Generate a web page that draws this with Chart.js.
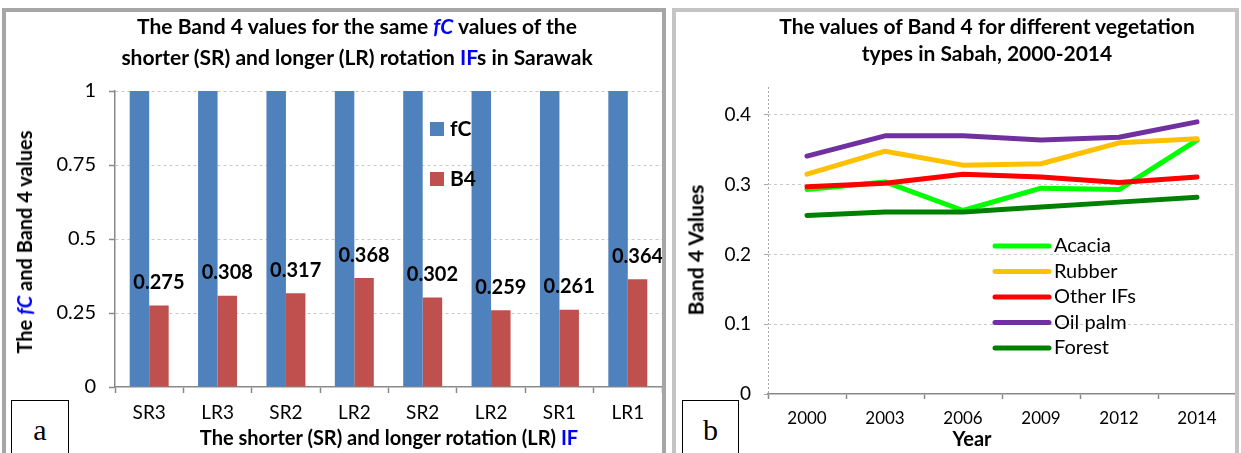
<!DOCTYPE html>
<html>
<head>
<meta charset="utf-8">
<title>Band 4 values</title>
<script src="https://cdn.jsdelivr.net/npm/chart.js@4.4.1/dist/chart.umd.min.js"></script>
<style>
  html, body { margin: 0; padding: 0; background: #fff; }
  body { position: relative; width: 1241px; height: 453px; overflow: hidden; font-family: Lato, "Open Sans", sans-serif; color: #000; }
  canvas { position: absolute; top: 0; }
  #chartA { left: 0; }
  #chartB { left: 675px; }
  .frame { position: absolute; box-sizing: border-box; pointer-events: none; }
  #frameA { left: 2px; top: 8px; width: 664px; height: 470px; border: 4px solid #A6A6A6; }
  #frameB { left: 672px; top: 8px; width: 567px; height: 470px; border: 4px solid #C4C4C4; }
  .title { position: absolute; font-weight: bold; font-size: 21px; line-height: 31px; text-align: center; white-space: nowrap; transform: translateX(-50%); }
  .blue { color: #0000FF; }
  .ytitle { position: absolute; font-weight: bold; font-size: 20px; white-space: nowrap; transform: translate(-50%, -50%) rotate(-90deg); }
  .xtitle { position: absolute; font-weight: bold; font-size: 20px; white-space: nowrap; transform: translate(-50%, -50%); }
  .tag { position: absolute; box-sizing: border-box; border: 1.5px solid #000; background: #fff; font-family: "Liberation Serif", "DejaVu Serif", serif; font-size: 30px; line-height: 58px; text-align: center; }
</style>
</head>
<body>
<canvas id="chartA" width="665" height="453"></canvas>
<canvas id="chartB" width="563" height="453"></canvas>

<div class="title" style="left:357px; top:10px;">The Band 4 values for the same <i class="blue">fC</i> values of the<br>shorter (SR) and longer (LR) rotation <span class="blue">IF</span>s in Sarawak</div>
<div class="ytitle" style="left:24px; top:242px;">The <i class="blue">fC</i> and Band 4 values</div>
<div class="xtitle" style="left:389px; top:437px;">The shorter (SR) and longer rotation (LR) <span class="blue">IF</span></div>
<div class="tag" style="left:11px; top:400px; width:58px; height:60px;">a</div>

<div class="title" style="left:987px; top:12px; line-height:27px;">The values of Band 4 for different vegetation<br>types in Sabah, 2000-2014</div>
<div class="ytitle" style="left:695px; top:250px; font-size:21px;">Band 4 Values</div>
<div class="xtitle" style="left:972px; top:438px;">Year</div>
<div class="tag" style="left:682px; top:400px; width:57px; height:60px;">b</div>

<div class="frame" id="frameA"></div>
<div class="frame" id="frameB"></div>

<script>
const FONT = "Lato, 'Open Sans', sans-serif";

// chart a: Sarawak
const categoriesA = ["SR3", "LR3", "SR2", "LR2", "SR2", "LR2", "SR1", "LR1"];
const fcValues = [1, 1, 1, 1, 1, 1, 1, 1];
const b4Values = [0.275, 0.308, 0.317, 0.368, 0.302, 0.259, 0.261, 0.364];
const yTicksA = [0, 0.25, 0.5, 0.75, 1];

// chart b: Sabah
const years = ["2000", "2003", "2006", "2009", "2012", "2014"];
const acacia = [0.293, 0.304, 0.263, 0.295, 0.293, 0.364];
const rubber = [0.315, 0.348, 0.328, 0.330, 0.360, 0.366];
const otherIFs = [0.297, 0.302, 0.315, 0.311, 0.303, 0.311];
const oilPalm = [0.341, 0.370, 0.370, 0.364, 0.368, 0.390];
const forest = [0.256, 0.261, 0.261, 0.268, 0.275, 0.282];
const seriesNames = ["Acacia", "Rubber", "Other IFs", "Oil palm", "Forest"];
const seriesColors = ["#00FF00", "#FFC000", "#FF0000", "#7030A0", "#008000"];
const yTicksB = [0, 0.1, 0.2, 0.3, 0.4];

const AXIS = "#898989";
const GRID = "#C8C8C8";

const barLabels = {
  id: "barLabels",
  afterDatasetsDraw(chart) {
    const { ctx } = chart;
    const meta = chart.getDatasetMeta(1);
    ctx.save();
    ctx.font = `bold 20px ${FONT}`;
    ctx.fillStyle = "#000";
    ctx.textAlign = "center";
    ctx.textBaseline = "middle";
    meta.data.forEach((bar, i) => {
      ctx.fillText(b4Values[i].toFixed(3), bar.x, bar.y - 23);
    });
    ctx.restore();
  },
};

const legendA = {
  id: "legendA",
  afterDraw(chart) {
    const { ctx } = chart;
    ctx.save();
    ctx.font = `bold 21px ${FONT}`;
    ctx.textBaseline = "middle";
    chart.data.datasets.forEach((ds, i) => {
      const y = 129 + i * 50;
      ctx.fillStyle = ds.backgroundColor;
      ctx.fillRect(430, y - 7, 14, 14);
      ctx.fillStyle = "#000";
      ctx.fillText(ds.label, 450, y);
    });
    ctx.restore();
  },
};

const legendB = {
  id: "legendB",
  afterDraw(chart) {
    const { ctx } = chart;
    ctx.save();
    ctx.font = `20px ${FONT}`;
    ctx.textBaseline = "middle";
    ctx.lineCap = "round";
    chart.data.datasets.forEach((ds, i) => {
      const y = 246 + i * 25.5;
      ctx.strokeStyle = ds.borderColor;
      ctx.lineWidth = 5;
      ctx.beginPath();
      ctx.moveTo(320, y);
      ctx.lineTo(374, y);
      ctx.stroke();
      ctx.fillStyle = "#000";
      ctx.fillText(ds.label, 379, y);
    });
    ctx.restore();
  },
};

new Chart(document.getElementById("chartA"), {
  type: "bar",
  data: {
    labels: categoriesA,
    datasets: [
      { label: "fC", data: fcValues, backgroundColor: "#4F81BD", categoryPercentage: 0.57, barPercentage: 1 },
      { label: "B4", data: b4Values, backgroundColor: "#C0504D", categoryPercentage: 0.57, barPercentage: 1 },
    ],
  },
  options: {
    responsive: false,
    animation: false,
    layout: { padding: { top: 91, right: 3, left: 0, bottom: 0 } },
    plugins: { legend: { display: false }, tooltip: { enabled: false } },
    scales: {
      x: {
        grid: { offset: true, drawOnChartArea: false, tickLength: 6, tickColor: AXIS, tickWidth: 1.5 },
        border: { color: AXIS, width: 1.5 },
        ticks: { color: "#000", font: { family: FONT, size: 19 }, padding: 8, maxRotation: 0, autoSkip: false },
        afterFit: (scale) => { scale.height = 66; },
      },
      y: {
        min: 0,
        max: 1,
        afterBuildTicks: (scale) => { scale.ticks = yTicksA.map((v) => ({ value: v })); },
        grid: {
          color: (c) => (c.tick && c.tick.value === 0 ? "rgba(0,0,0,0)" : GRID),
          tickColor: AXIS, tickLength: 6, tickWidth: 1.5,
        },
        border: { color: AXIS, width: 1.5, dash: [3, 3] },
        ticks: { color: "#000", font: { family: FONT, size: 20 }, padding: 13, callback: (v) => String(v) },
        afterFit: (scale) => { scale.width = 115; },
      },
    },
  },
  plugins: [barLabels, legendA],
});

const seriesB = [acacia, rubber, otherIFs, oilPalm, forest];

new Chart(document.getElementById("chartB"), {
  type: "line",
  data: {
    labels: years,
    datasets: seriesB.map((values, i) => ({
      label: seriesNames[i],
      data: values,
      borderColor: seriesColors[i],
      backgroundColor: seriesColors[i],
      borderWidth: 5,
      borderCapStyle: "round",
      borderJoinStyle: "round",
      pointRadius: 0,
      tension: 0,
      order: seriesB.length - i,
    })),
  },
  options: {
    responsive: false,
    animation: false,
    layout: { padding: { top: 87, right: 2, left: 0, bottom: 0 } },
    plugins: { legend: { display: false }, tooltip: { enabled: false } },
    scales: {
      x: {
        offset: true,
        grid: {
          offset: true,
          color: (c) => (c.index === 0 ? "#A8A8A8" : "rgba(0,0,0,0)"),
          tickColor: AXIS, tickLength: 5, tickWidth: 1.5,
        },
        border: { color: AXIS, width: 1.5, dash: [2, 2] },
        ticks: { color: "#000", font: { family: FONT, size: 17 }, padding: 9, maxRotation: 0, autoSkip: false },
        afterFit: (scale) => { scale.height = 59; },
      },
      y: {
        min: 0,
        max: 0.44,
        afterBuildTicks: (scale) => { scale.ticks = yTicksB.map((v) => ({ value: v })); },
        grid: {
          color: (c) => (c.tick && c.tick.value === 0 ? "rgba(0,0,0,0)" : GRID),
          tickColor: "#A8A8A8", tickLength: 4,
        },
        border: { display: false, dash: [3, 3] },
        ticks: { color: "#000", font: { family: FONT, size: 19 }, padding: 13, callback: (v) => String(v) },
        afterFit: (scale) => { scale.width = 93; },
      },
    },
  },
  plugins: [legendB],
});
</script>
</body>
</html>
